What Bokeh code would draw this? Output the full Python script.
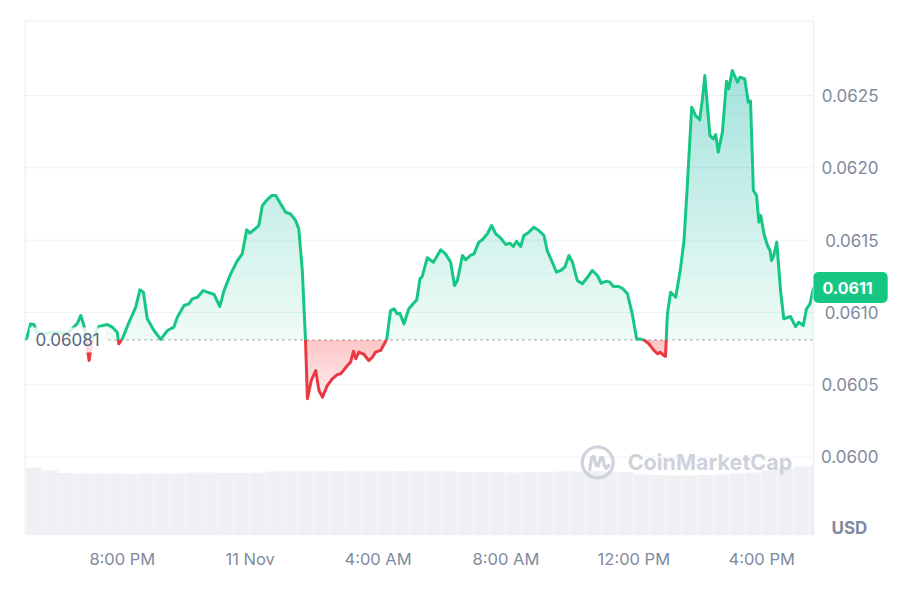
import numpy as np
from bokeh.plotting import figure
from bokeh.models import Range1d, FixedTicker, Span, Label, LinearAxis
from bokeh.embed import file_html
from bokeh.resources import INLINE

# ---------------- data (hours since 10 Nov 00:00) ----------------
time_h = [16.94, 17.01, 17.13, 17.24, 17.32, 17.54, 17.85, 18.28, 18.59, 18.70,
          18.80, 18.96, 19.06, 19.27, 19.53, 19.69, 19.84, 19.89, 20.00, 20.21,
          20.42, 20.55, 20.66, 20.78, 20.99, 21.20, 21.41, 21.61, 21.72, 21.93,
          22.08, 22.19, 22.35, 22.53, 22.66, 22.87, 23.05, 23.18, 23.39, 23.60,
          23.75, 23.89, 23.99, 24.27, 24.38, 24.51, 24.67, 24.80, 24.95, 25.11,
          25.26, 25.42, 25.52, 25.63, 25.73, 25.79, 25.91, 26.05, 26.15, 26.26,
          26.41, 26.57, 26.73, 26.83, 27.04, 27.14, 27.23, 27.30, 27.40, 27.56,
          27.71, 27.82, 27.92, 28.08, 28.27, 28.39, 28.50, 28.60, 28.68, 28.81,
          28.96, 29.21, 29.31, 29.38, 29.54, 29.73, 29.96, 30.11, 30.27, 30.39,
          30.48, 30.64, 30.74, 30.89, 31.00, 31.15, 31.26, 31.42, 31.55, 31.68,
          31.83, 31.99, 32.12, 32.23, 32.33, 32.46, 32.56, 32.72, 32.87, 33.03,
          33.19, 33.29, 33.45, 33.58, 33.71, 33.84, 33.97, 34.08, 34.23, 34.39,
          34.55, 34.70, 34.86, 34.98, 35.15, 35.25, 35.36, 35.53, 35.65, 35.80,
          35.95, 36.09, 36.19, 36.34, 36.47, 36.63, 36.75, 36.82, 36.94, 36.99,
          37.05, 37.15, 37.31, 37.46, 37.57, 37.67, 37.81, 37.93, 38.06, 38.14,
          38.22, 38.38, 38.49, 38.56, 38.64, 38.77, 38.90, 38.97, 39.08, 39.24,
          39.32, 39.47, 39.58, 39.65, 39.74, 39.84, 39.91, 39.97, 40.07, 40.18,
          40.26, 40.31, 40.38, 40.47, 40.59, 40.69, 40.90, 41.06, 41.16, 41.30,
          41.40, 41.51, 41.62]

price = [0.060813, 0.060820, 0.060920, 0.060916, 0.060863, 0.060854, 0.060863, 0.060854, 0.060923, 0.060979,
         0.060909, 0.060667, 0.060820, 0.060902, 0.060916, 0.060898, 0.060863, 0.060783, 0.060817, 0.060932,
         0.061036, 0.061156, 0.061140, 0.060956, 0.060875, 0.060813, 0.060875, 0.060898, 0.060967, 0.061048,
         0.061059, 0.061094, 0.061105, 0.061151, 0.061140, 0.061124, 0.061041, 0.061151, 0.061267, 0.061359,
         0.061405, 0.061571, 0.061548, 0.061601, 0.061739, 0.061774, 0.061808, 0.061808, 0.061751, 0.061693,
         0.061682, 0.061636, 0.061578, 0.061290, 0.060806, 0.060403, 0.060529, 0.060598, 0.060460, 0.060414,
         0.060494, 0.060541, 0.060571, 0.060575, 0.060633, 0.060656, 0.060732, 0.060679, 0.060725, 0.060709,
         0.060667, 0.060690, 0.060725, 0.060737, 0.060813, 0.061013, 0.061025, 0.060990, 0.060994, 0.060921,
         0.061025, 0.061087, 0.061232, 0.061248, 0.061378, 0.061347, 0.061433, 0.061405, 0.061347, 0.061186,
         0.061221, 0.061394, 0.061364, 0.061394, 0.061405, 0.061486, 0.061502, 0.061544, 0.061601, 0.061544,
         0.061516, 0.061470, 0.061479, 0.061456, 0.061492, 0.061456, 0.061532, 0.061555, 0.061589, 0.061566,
         0.061532, 0.061428, 0.061347, 0.061278, 0.061290, 0.061313, 0.061394, 0.061347, 0.061221, 0.061198,
         0.061243, 0.061290, 0.061255, 0.061202, 0.061216, 0.061209, 0.061179, 0.061179, 0.061165, 0.061129,
         0.060990, 0.060815, 0.060817, 0.060806, 0.060783, 0.060737, 0.060714, 0.060725, 0.060702, 0.060695,
         0.060990, 0.061140, 0.061105, 0.061304, 0.061497, 0.061866, 0.062419, 0.062362, 0.062332, 0.062465,
         0.062638, 0.062223, 0.062201, 0.062230, 0.062108, 0.062246, 0.062599, 0.062546, 0.062673, 0.062592,
         0.062627, 0.062615, 0.062454, 0.062461, 0.061843, 0.061808, 0.061624, 0.061670, 0.061544, 0.061463,
         0.061428, 0.061359, 0.061394, 0.061486, 0.061151, 0.060956, 0.060972, 0.060902, 0.060932, 0.060909,
         0.061025, 0.061059, 0.061172]

base_price = 0.06081
base_label = "0.06081"
last_label = "0.0611"

# volume bars: 30-minute buckets starting 17:00, 10 Nov (arbitrary units, millions)
vol_start = 17.0
vol_step = 0.5
volume = [1.36, 1.30, 1.25, 1.24, 1.24, 1.24, 1.23, 1.24, 1.24, 1.24,
          1.26, 1.26, 1.25, 1.25, 1.26, 1.28, 1.28, 1.28, 1.28, 1.29,
          1.28, 1.28, 1.28, 1.29, 1.28, 1.28, 1.28, 1.27, 1.27, 1.27,
          1.26, 1.27, 1.27, 1.28, 1.28, 1.29, 1.28, 1.27, 1.22, 1.21,
          1.20, 1.20, 1.21, 1.22, 1.24, 1.26, 1.30, 1.34, 1.38, 1.40]

x_ticks = [20, 24, 28, 32, 36, 40]
x_tick_labels = ["8:00 PM", "11 Nov", "4:00 AM", "8:00 AM", "12:00 PM", "4:00 PM"]
y_ticks = [0.0600, 0.0605, 0.0610, 0.0615, 0.0620, 0.0625]
y_tick_labels = ["0.0600", "0.0605", "0.0610", "0.0615", "0.0620", "0.0625"]
unit_label = "USD"
watermark = "CoinMarketCap"

# ---------------- styling / layout ----------------
GREEN = "#16c784"
RED = "#ea3943"
FONT = "Inter"
LABEL_GRAY = "#808a9d"
BORDER = "#eceef1"
X0, X1 = 16.94, 41.62          # data window of the chart area
Y0, Y1 = 0.059457, 0.063019
CHART_W = 789                  # px width of chart area
FRAME_W = 890                  # frame also holds the right-hand label strip
X1E = X0 + (X1 - X0) * FRAME_W / CHART_W


def insert_crossings(x, y, level):
    xo, yo = [x[0]], [y[0]]
    for i in range(1, len(x)):
        a = y[i - 1] - level
        b = y[i] - level
        if a * b < 0:
            f = a / (a - b)
            xo.append(x[i - 1] + f * (x[i] - x[i - 1]))
            yo.append(level)
        xo.append(x[i])
        yo.append(y[i])
    return np.array(xo), np.array(yo)


t = np.array(time_h, dtype=float)
v = np.array(price, dtype=float)
xs, ys = insert_crossings(t, v, base_price)

p = figure(frame_width=FRAME_W, frame_height=515,
           x_range=Range1d(X0, X1E), y_range=Range1d(Y0, Y1),
           y_axis_location=None, output_backend="svg", toolbar_location=None,
           min_border_left=24, min_border_top=20, min_border_right=0, min_border_bottom=49,
           background_fill_color="white", border_fill_color="white")
p.outline_line_color = None
p.grid.grid_line_color = None

# horizontal grid lines (chart area only)
p.segment(x0=[X0] * len(y_ticks), x1=[X1] * len(y_ticks), y0=y_ticks, y1=y_ticks,
          line_color="#eff2f5", line_width=1)

# volume
p.extra_y_ranges = {"vol": Range1d(0, 10.3)}
vol_left = vol_start + vol_step * np.arange(len(volume))
vol_right = np.minimum(vol_left + vol_step * 0.97, X1)
p.quad(left=vol_left, right=vol_right, top=volume, bottom=0, y_range_name="vol",
       fill_color="#eef0f3", line_color=None)

# baseline (dotted)
p.segment(x0=[X0], x1=[X1], y0=[base_price], y1=[base_price],
          line_color="#9aa1b0", line_dash="2 4", line_width=1.3)

# green gradient fill (above baseline)
p.varea(x=xs, y1=np.full_like(ys, base_price), y2=np.maximum(ys, base_price),
        fill_color=GREEN, fill_alpha=0.07)
for L in np.linspace(base_price, Y1, 31)[1:]:
    if L >= ys.max():
        break
    xl, yl = insert_crossings(xs, ys, L)
    p.varea(x=xl, y1=np.full_like(yl, L), y2=np.maximum(yl, L),
            fill_color=GREEN, fill_alpha=0.010)

# red gradient fill (below baseline)
p.varea(x=xs, y1=np.minimum(ys, base_price), y2=np.full_like(ys, base_price),
        fill_color=RED, fill_alpha=0.08)
for L in np.linspace(0.0604, base_price, 21)[:-1]:
    xl, yl = insert_crossings(xs, ys, L)
    p.varea(x=xl, y1=np.clip(yl, L, base_price), y2=np.full_like(yl, base_price),
            fill_color=RED, fill_alpha=0.0122)

# price line split at the baseline
green_y = np.where(ys >= base_price, ys, np.nan)
red_y = np.where(ys <= base_price, ys, np.nan)
p.line(xs, green_y, line_color=GREEN, line_width=3, line_join="round")
p.line(xs, red_y, line_color=RED, line_width=3, line_join="round")

# chart-area border: left, right, top
p.add_layout(Span(location=X0, dimension="height", line_color=BORDER, line_width=2))
p.add_layout(Span(location=X1, dimension="height", line_color=BORDER, line_width=1.5))
p.segment(x0=[X0], x1=[X1], y0=[Y1], y1=[Y1], line_color=BORDER, line_width=2)

# x axis
p.xaxis.ticker = FixedTicker(ticks=x_ticks)
p.xaxis.major_label_overrides = dict(zip(x_ticks, x_tick_labels))
p.xaxis.major_label_standoff = 13

# y axis, pinned to the right edge of the chart area; labels to its right
yax = LinearAxis(fixed_location=X1, ticker=FixedTicker(ticks=y_ticks))
yax.major_label_overrides = dict(zip(y_ticks, y_tick_labels))
yax.major_label_standoff = -65
p.add_layout(yax, "left")

for ax in (p.xaxis[0], yax):
    ax.axis_line_color = None
    ax.major_tick_line_color = None
    ax.minor_tick_line_color = None
    ax.major_tick_out = 0
    ax.major_tick_in = 0
    ax.major_label_text_font = FONT
    ax.major_label_text_color = LABEL_GRAY
p.xaxis.major_label_text_font_size = "16.5px"
yax.major_label_text_font_size = "17px"

# baseline value label
p.add_layout(Label(x=X0, y=base_price, x_offset=5, text=base_label,
                   text_font=FONT, text_font_size="17px", text_color="#58667e",
                   text_baseline="middle", text_align="left",
                   background_fill_color="white", background_fill_alpha=0.8,
                   padding=6))

# last price badge
p.add_layout(Label(x=X1, y=v[-1], x_offset=0, text=last_label,
                   text_font=FONT, text_font_size="16px", text_font_style="bold",
                   text_color="white", text_baseline="middle", text_align="left",
                   background_fill_color=GREEN, background_fill_alpha=1.0,
                   border_radius=5, padding=dict(left=9, right=15, top=10, bottom=9)))

# unit label
p.add_layout(Label(x=X1, y=0.059506, x_offset=18, text=unit_label,
                   text_font=FONT, text_font_size="17px", text_font_style="bold",
                   text_color=LABEL_GRAY, text_baseline="middle", text_align="left"))

# watermark
wm_color = "#cdd2db"
dxp = (X1 - X0) / CHART_W
dyp = (Y1 - Y0) / 515.0
cx, cy = 34.87, 0.059962
p.scatter([cx], [cy], marker="circle", size=31, fill_alpha=0, line_color=wm_color, line_width=3.2)
mx = [-8, -6, -4, -1.5, 0.5, 3, 5, 6.5, 8.5, 11]
my = [7, -5, -6, 3, 3.5, -5, -5, 3, 6, 3]
p.line([cx + a * dxp for a in mx], [cy - b * dyp for b in my], line_color=wm_color, line_width=3.2,
       line_join="round", line_cap="round")
p.add_layout(Label(x=cx, y=cy, x_offset=30, text=watermark, text_font=FONT,
                   text_font_size="21.5px", text_font_style="bold", text_color=wm_color,
                   text_baseline="middle", text_align="left"))

open("out.html", "w").write(file_html(p, INLINE))
